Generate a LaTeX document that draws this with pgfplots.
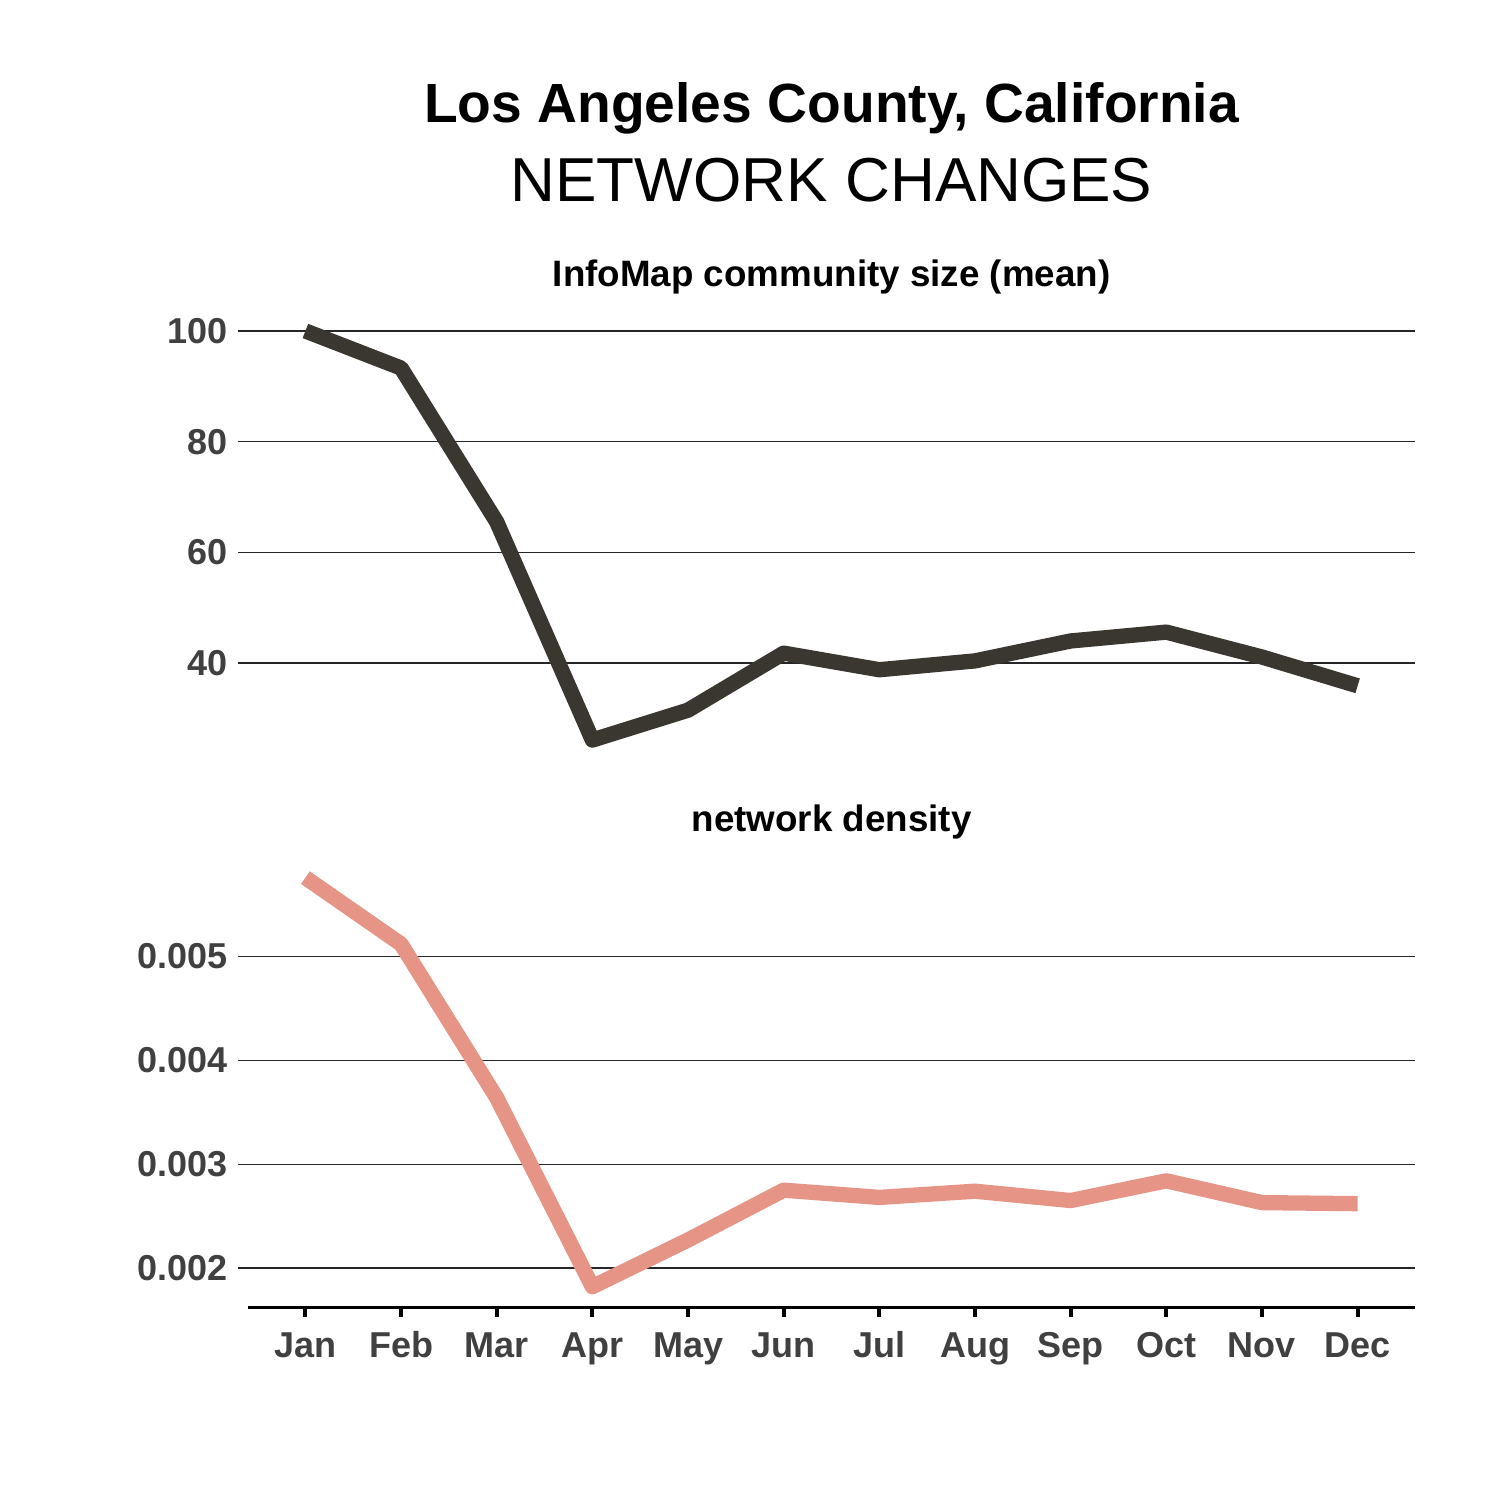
\documentclass[border=0pt]{standalone}
\usepackage{pgfplots}
\pgfplotsset{compat=1.18}
\usepackage{fontspec}
\setmainfont{Liberation Sans}
\definecolor{darkline}{HTML}{3A3730}
\definecolor{pinkline}{HTML}{E69485}
\definecolor{tickgray}{HTML}{404040}
\pgfplotsset{
  panel/.style={
    scale only axis, width=389pt, height=150.2pt,
    xmin=0.4, xmax=12.6,
    axis line style={draw=none},
    tick style={draw=none},
    tick align=outside, major tick length=3.33pt,
    clip=false,
    scaled y ticks=false,
    ymajorgrids, grid style={black!85, line width=0.45pt},
    yticklabel style={font=\fontsize{12}{14}\selectfont\bfseries, text=tickgray},
    /pgf/number format/assume math mode=true,
    line join=round, line cap=butt,
  }
}
\begin{document}
\begin{tikzpicture}
\path[use as bounding box] (0,0) rectangle (500pt,500pt);
\node[anchor=base, font=\fontsize{18.4}{22}\selectfont\bfseries] at (277.2pt,459pt) {Los Angeles County, California};
\node[anchor=base, font=\fontsize{20.7}{24}\selectfont] at (277.2pt,432.8pt) {NETWORK CHANGES};
\node[anchor=base, font=\fontsize{12.25}{14}\selectfont\bfseries] at (277.2pt,404.4pt) {InfoMap community size (mean)};
\node[anchor=base, font=\fontsize{12.25}{14}\selectfont\bfseries] at (277.2pt,222.7pt) {network density};
% top panel
\begin{axis}[panel, at={(82.67pt,246.3pt)}, anchor=south west,
  ymin=22.3, ymax=103.7,
  ytick={40,60,80,100}, yticklabels={40,60,80,100},
  xtick=\empty]
  \pgfplotsinvokeforeach{40,60,80,100}{
    \draw[black!85, line width=0.45pt] (axis cs:0.4,#1) -- ++(-3.33pt,0pt);
  }
  \addplot[darkline, line width=5.1pt, no marks] coordinates {
    (1,100) (2,93.3) (3,65.5) (4,26.1) (5,31.5) (6,41.8)
    (7,38.8) (8,40.4) (9,44.0) (10,45.6) (11,41.1) (12,35.9)};
\end{axis}
% bottom panel
\begin{axis}[panel, at={(82.67pt,64.17pt)}, anchor=south west,
  ymin=0.00162, ymax=0.00596,
  ytick={0.002,0.003,0.004,0.005}, yticklabels={0.002,0.003,0.004,0.005},
  xtick={1,...,12},
  xticklabels={Jan,Feb,Mar,Apr,May,Jun,Jul,Aug,Sep,Oct,Nov,Dec},
  xticklabel style={font=\fontsize{12}{14}\selectfont\bfseries, text=tickgray,
    text height=8.6pt, text depth=2.5pt, yshift=-1.2pt},
  ]
  \draw[black, line width=1.3pt] (axis cs:0.4,0.00162) -- (axis cs:12.6,0.00162);
  \pgfplotsinvokeforeach{1,...,12}{
    \draw[black, line width=1.3pt] (axis cs:#1,0.00162) -- ++(0pt,-3.2pt);
  }
  \pgfplotsinvokeforeach{0.002,0.003,0.004,0.005}{
    \draw[black!85, line width=0.45pt] (axis cs:0.4,#1) -- ++(-3.33pt,0pt);
  }
  \addplot[pinkline, line width=5.1pt, no marks] coordinates {
    (1,0.00576) (2,0.00512) (3,0.00364) (4,0.00182) (5,0.00227) (6,0.00275)
    (7,0.00268) (8,0.00274) (9,0.00265) (10,0.00284) (11,0.00263) (12,0.00262)};
\end{axis}
\end{tikzpicture}
\end{document}
